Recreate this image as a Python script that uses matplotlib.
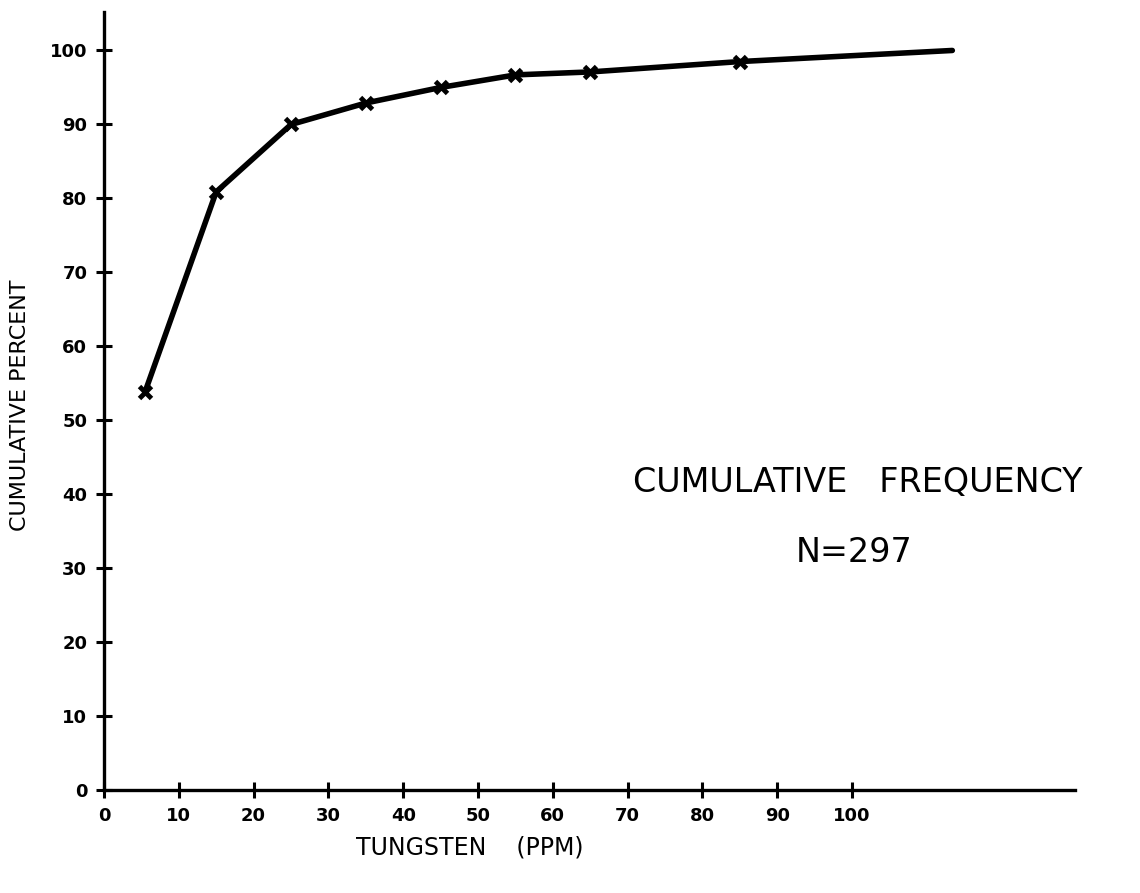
import matplotlib
matplotlib.use("Agg")
import matplotlib.pyplot as plt

# tungsten (ppm) vs cumulative percent
tungsten = [5.5, 15, 25, 35, 45, 55, 65, 85]
cum_pct = [53.8, 80.8, 89.9, 92.8, 94.9, 96.6, 97.0, 98.4]
# the curve runs on past the last marker to 100%
tail_x = [85, 113.4]
tail_y = [98.4, 99.9]

x_ticks = [0, 10, 20, 30, 40, 50, 60, 70, 80, 90, 100]
y_ticks = [0, 10, 20, 30, 40, 50, 60, 70, 80, 90, 100]

plt.rcParams["font.family"] = "DejaVu Sans"

W, H = 1140, 893
fig = plt.figure(figsize=(W / 100, H / 100), dpi=100)
ax = fig.add_axes([0.0912, 0.1153, 0.8518, 0.8713])

ax.plot(tungsten, cum_pct, color="black", linewidth=4, solid_capstyle="round", zorder=2)
ax.plot(tail_x, tail_y, color="black", linewidth=4, solid_capstyle="round", zorder=2)
ax.plot(tungsten, cum_pct, linestyle="none", marker="x", markersize=9,
        markeredgewidth=3.5, color="black", zorder=3)

ax.set_xlim(0, 129.8)
ax.set_ylim(0, 105.1)
for side in ("top", "right"):
    ax.spines[side].set_visible(False)
for side in ("left", "bottom"):
    ax.spines[side].set_linewidth(2.4)

ax.set_xticks(x_ticks)
ax.set_yticks(y_ticks)
ax.tick_params(direction="inout", length=12, width=2.2, labelsize=13, pad=6)
for lab in ax.get_xticklabels() + ax.get_yticklabels():
    lab.set_fontweight("bold")

ax.set_xlabel("TUNGSTEN    (PPM)", fontsize=17)
ax.xaxis.set_label_coords((470 - 104) / (1075 - 104), -(847 - 790) / (790 - 12))
ax.xaxis.label.set_va("center")
ax.set_ylabel("CUMULATIVE PERCENT", fontsize=16)
ax.yaxis.set_label_coords(-(104 - 20) / (1075 - 104), (790 - 405) / (790 - 12))
ax.yaxis.label.set_va("center")

ax.text(858 / W, 1 - 482 / H, "CUMULATIVE   FREQUENCY", transform=fig.transFigure,
        fontsize=24, ha="center", va="center")
ax.text(854 / W, 1 - 553 / H, "N=297", transform=fig.transFigure,
        fontsize=24, ha="center", va="center")

fig.savefig("out.png", dpi=100)
